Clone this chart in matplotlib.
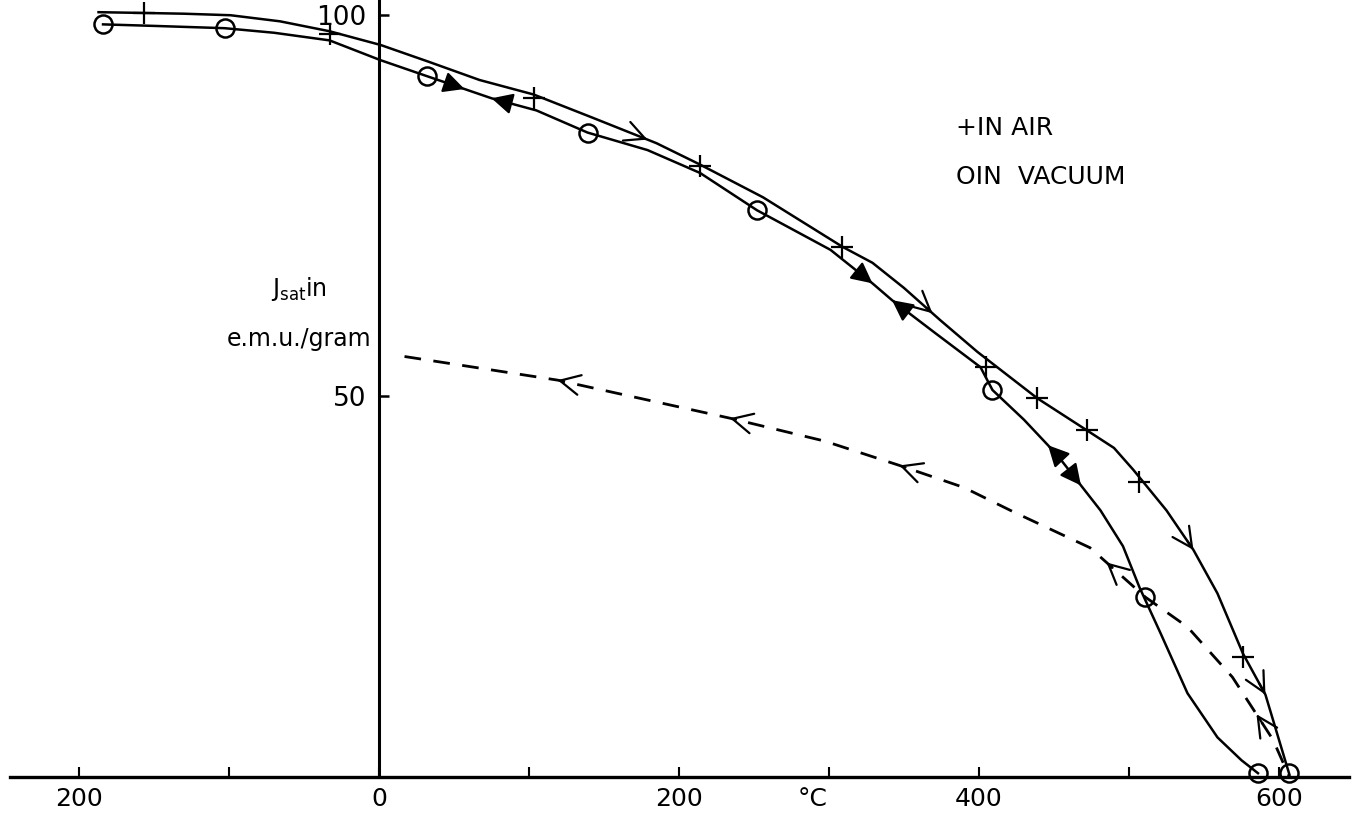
import numpy as np
import matplotlib
matplotlib.use("Agg")
import matplotlib.pyplot as plt

plt.rcParams['font.family'] = ['DejaVu Sans']
plt.rcParams['mathtext.fontset'] = 'dejavusans'

# heating in air (crosses)
air_T = [-187, -157, -130, -99, -66, -33, 1, 33, 67, 103, 143, 185, 214, 256,
         309, 329, 350, 374, 399, 439, 472, 490, 503, 525, 543, 559, 576, 591,
         607]
air_M = [100.4, 100.3, 100.2, 100.0, 99.2, 97.9, 96.1, 93.9, 91.5, 89.6, 86.5,
         83.2, 80.4, 76.1, 69.6, 67.5, 64.2, 60.0, 55.8, 49.7, 45.5, 43.2,
         40.3, 35.0, 29.8, 24.1, 16.2, 10.8, 0.3]
cross_T = [-157, -33, 103, 214, 309, 405, 439, 472, 507, 576]
cross_M = [100.3, 97.6, 89.2, 80.2, 69.6, 53.8, 49.7, 45.5, 38.7, 15.7]

# in vacuum (circles)
vac_T = [-184, -150, -103, -70, -33, 1, 32, 75, 105, 139, 179, 214, 252, 301,
         329, 342, 370, 401, 409, 430, 452, 481, 496, 507, 521, 539, 559, 575,
         586]
vac_M = [98.8, 98.6, 98.3, 97.7, 96.7, 94.1, 92.0, 89.1, 87.5, 84.6, 82.3,
         79.3, 74.4, 69.2, 64.8, 62.6, 58.4, 53.8, 50.8, 46.9, 42.3, 35.0,
         30.3, 24.9, 18.9, 11.0, 5.2, 2.2, 0.5]
circ_T = [-184, -103, 32, 139, 252, 409, 511, 586, 607]
circ_M = [98.8, 98.3, 92.0, 84.6, 74.4, 50.8, 23.6, 0.5, 0.5]

# cooling curve (dashed)
dash_T = [17, 119, 234, 297, 347, 390, 423, 474, 511, 539, 569, 596, 607]
dash_M = [55.2, 52.1, 47.1, 44.1, 40.9, 38.0, 34.8, 30.1, 23.6, 19.7, 13.1,
          4.9, 0]

# arrow positions along the curves
air_arrows = [179, 369, 543, 591]
dash_arrows = [119, 234, 347, 485, 585]
vac_fwd = [57, 329, 468]
vac_back = [75, 342, 446]

xticks_major = [-200, 0, 200, 400, 600]
xtick_labels = ['200', '0', '200', '400', '600']
xticks_minor = [-100, 100, 300, 500]
yticks = [50, 100]

fig = plt.figure(figsize=(13.61, 8.15), dpi=100)
ax = fig.add_axes([0, 0, 1, 1])
ax.set_xlim(-252.7, 654.7)
ax.set_ylim(-4.99, 102.0)

lw = 1.8
ax.plot(air_T, air_M, color='black', lw=lw)
ax.plot(vac_T, vac_M, color='black', lw=lw)
ax.plot(dash_T, dash_M, color='black', lw=2.0, dashes=(6, 4.5))
ax.plot(cross_T, cross_M, ls='none', marker='+', ms=16, mew=1.6, color='black')
ax.plot(circ_T, circ_M, ls='none', marker='o', ms=13, mew=1.8,
        mfc='none', mec='black')


def arrow(T0, Ts, Ms, sign, style):
    T1 = T0 - sign * 4
    ax.annotate('', xy=(T0, np.interp(T0, Ts, Ms)),
                xytext=(T1, np.interp(T1, Ts, Ms)),
                arrowprops=dict(arrowstyle=style, color='black', lw=1.6,
                                mutation_scale=16, shrinkA=0, shrinkB=0))


for t in air_arrows:
    arrow(t, air_T, air_M, 1, '->,head_length=0.9,head_width=0.45')
for t in dash_arrows:
    arrow(t, dash_T, dash_M, -1, '->,head_length=0.9,head_width=0.45')
for t in vac_fwd:
    arrow(t, vac_T, vac_M, 1, '-|>,head_length=0.8,head_width=0.4')
for t in vac_back:
    arrow(t, vac_T, vac_M, -1, '-|>,head_length=0.8,head_width=0.4')

# axes drawn through the origin, like the hand drawing
for s in ['top', 'right']:
    ax.spines[s].set_visible(False)
ax.spines['bottom'].set_position(('data', 0))
ax.spines['left'].set_position(('data', 0))
ax.spines['bottom'].set_bounds(-246, 647)
ax.spines['left'].set_bounds(0, 102)
ax.spines['bottom'].set_linewidth(2.4)
ax.spines['left'].set_linewidth(2.2)

ax.set_xticks(xticks_major)
ax.set_xticklabels(xtick_labels)
ax.set_xticks(xticks_minor, minor=True)
ax.set_yticks(yticks)
ax.tick_params(axis='x', which='both', direction='in', length=7, width=1.5,
               pad=7, labelsize=18)
ax.tick_params(axis='y', direction='in', length=7, width=1.8, pad=9,
               labelsize=19)

ax.text(289, -2.9, '°C', fontsize=18, ha='center', va='center')
ax.text(385, 85.2, '+IN AIR', fontsize=18, ha='left', va='center')
ax.text(385, 78.8, 'OIN  VACUUM', fontsize=18, ha='left', va='center')
ax.text(-35, 64.0, r'$\mathrm{J_{sat}}$in', fontsize=17,
        ha='right', va='center')
ax.text(-5, 57.5, 'e.m.u./gram', fontsize=17, ha='right', va='center')

fig.savefig('out.png', dpi=100, facecolor='white')
